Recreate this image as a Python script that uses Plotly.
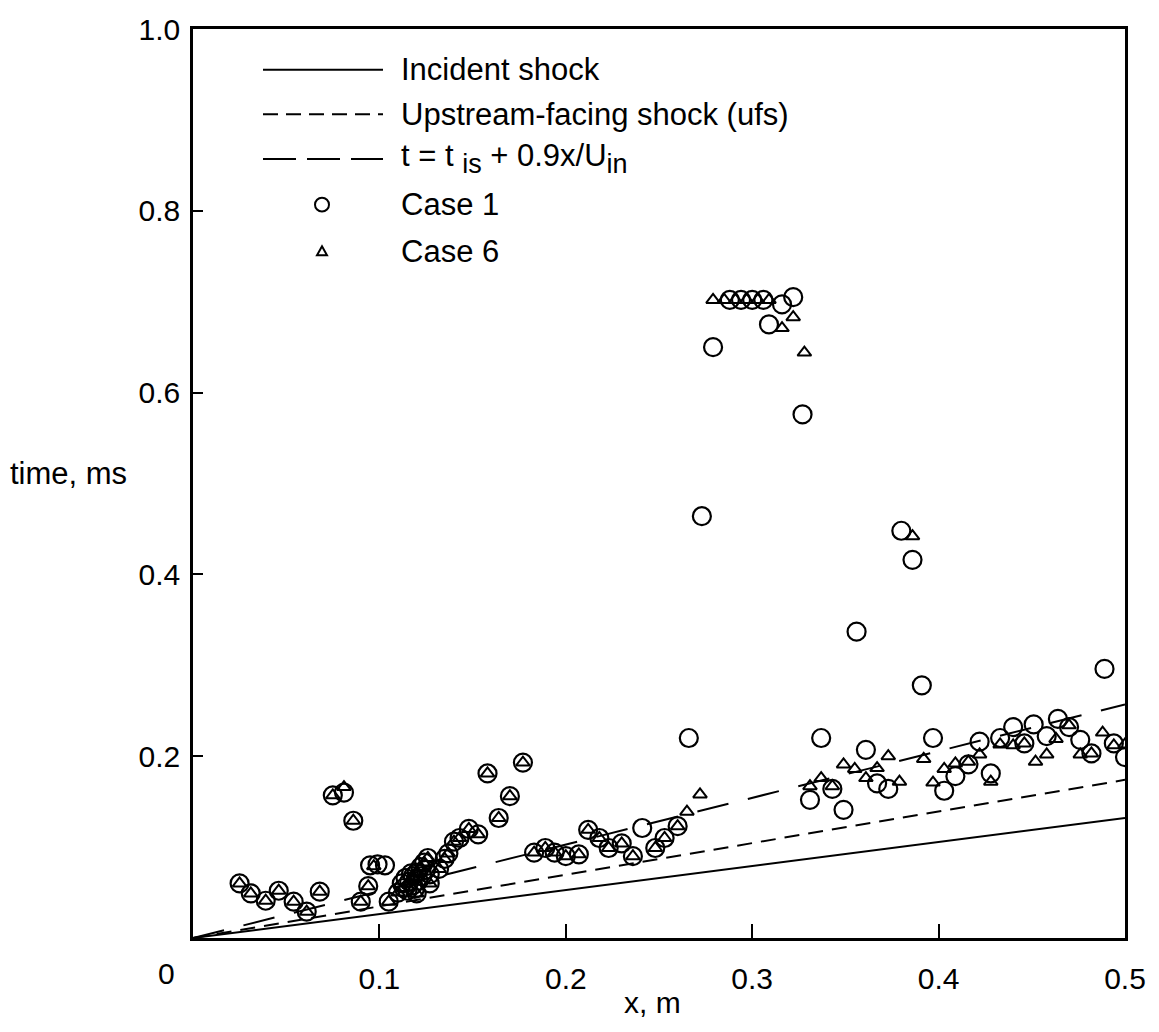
import plotly.graph_objects as go

# ---------------- data ----------------
line_x = [0.0, 0.5]
incident_t = [0.0, 0.132]
ufs_t = [0.0, 0.174]
fit_t = [0.0, 0.257]

case1_x = [0.025, 0.031, 0.039, 0.046, 0.054, 0.061, 0.068, 0.075, 0.081, 0.086,
           0.090, 0.094, 0.095, 0.099, 0.103, 0.105,
           0.110, 0.112, 0.113, 0.114, 0.116, 0.118, 0.118, 0.120, 0.121, 0.122,
           0.124, 0.125, 0.126, 0.127, 0.120, 0.127, 0.115, 0.119, 0.123, 0.117,
           0.132, 0.135, 0.137, 0.140, 0.143, 0.148, 0.153, 0.158, 0.164, 0.170, 0.177,
           0.183, 0.189, 0.194, 0.200, 0.207, 0.212, 0.218, 0.223, 0.230, 0.236,
           0.241, 0.248, 0.253, 0.260,
           0.266, 0.273, 0.279, 0.288, 0.294, 0.300, 0.306, 0.316, 0.322, 0.309,
           0.327, 0.337, 0.356, 0.361, 0.380, 0.386, 0.391, 0.397, 0.489,
           0.331, 0.343, 0.349, 0.367, 0.373, 0.403, 0.409, 0.416, 0.422, 0.428,
           0.433, 0.440, 0.446, 0.451, 0.458, 0.464, 0.470, 0.476, 0.482, 0.494, 0.500]
case1_t = [0.060, 0.049, 0.041, 0.052, 0.040, 0.029, 0.051, 0.157, 0.160, 0.129,
           0.040, 0.057, 0.080, 0.081, 0.080, 0.040,
           0.050, 0.060, 0.055, 0.066, 0.062, 0.068, 0.058, 0.072, 0.063, 0.078,
           0.083, 0.075, 0.088, 0.070, 0.049, 0.060, 0.052, 0.054, 0.068, 0.071,
           0.076, 0.087, 0.093, 0.106, 0.110, 0.120, 0.114, 0.181, 0.132, 0.156, 0.193,
           0.094, 0.099, 0.094, 0.090, 0.092, 0.119, 0.110, 0.099, 0.104, 0.090,
           0.121, 0.099, 0.110, 0.123,
           0.220, 0.464, 0.650, 0.702, 0.702, 0.702, 0.702, 0.697, 0.705, 0.675,
           0.576, 0.220, 0.337, 0.207, 0.448, 0.416, 0.278, 0.220, 0.296,
           0.152, 0.164, 0.141, 0.170, 0.164, 0.162, 0.178, 0.191, 0.216, 0.181,
           0.220, 0.232, 0.214, 0.235, 0.222, 0.241, 0.232, 0.218, 0.203, 0.214, 0.199]

case6_x = [0.025, 0.031, 0.039, 0.046, 0.054, 0.061, 0.068, 0.075, 0.081, 0.086,
           0.090, 0.094, 0.097, 0.105,
           0.110, 0.113, 0.116, 0.118, 0.120, 0.122, 0.124, 0.126, 0.120, 0.127,
           0.132, 0.135, 0.137, 0.140, 0.143, 0.148, 0.153, 0.158, 0.164, 0.170, 0.177,
           0.183, 0.189, 0.194, 0.200, 0.207, 0.212, 0.218, 0.223, 0.230, 0.236,
           0.248, 0.253, 0.260, 0.265, 0.272,
           0.279, 0.285, 0.291, 0.297, 0.303, 0.309, 0.316, 0.322, 0.328, 0.386,
           0.331, 0.337, 0.343, 0.349, 0.355, 0.361, 0.367, 0.373, 0.379, 0.392,
           0.397, 0.403, 0.409, 0.416, 0.422, 0.428, 0.433, 0.440, 0.446, 0.452,
           0.458, 0.463, 0.470, 0.476, 0.482, 0.488, 0.494, 0.500]
case6_t = [0.060, 0.049, 0.041, 0.052, 0.040, 0.029, 0.051, 0.157, 0.166, 0.129,
           0.040, 0.057, 0.079, 0.040,
           0.050, 0.055, 0.062, 0.068, 0.072, 0.078, 0.083, 0.088, 0.049, 0.060,
           0.076, 0.087, 0.093, 0.106, 0.110, 0.120, 0.114, 0.181, 0.132, 0.156, 0.193,
           0.094, 0.099, 0.094, 0.090, 0.092, 0.119, 0.110, 0.099, 0.104, 0.090,
           0.099, 0.110, 0.123, 0.139, 0.158,
           0.702, 0.702, 0.702, 0.702, 0.702, 0.702, 0.671, 0.683, 0.644, 0.442,
           0.167, 0.176, 0.167, 0.191, 0.186, 0.176, 0.187, 0.200, 0.172, 0.197,
           0.171, 0.186, 0.192, 0.194, 0.202, 0.172, 0.213, 0.212, 0.214, 0.194,
           0.202, 0.219, 0.234, 0.202, 0.203, 0.226, 0.212, 0.213]

x_ticks = [0.1, 0.2, 0.3, 0.4, 0.5]
x_tick_text = ["0.1", "0.2", "0.3", "0.4", "0.5"]
y_ticks = [0.2, 0.4, 0.6, 0.8, 1.0]
y_tick_text = ["0.2", "0.4", "0.6", "0.8", "1.0"]

legend_labels = ["Incident shock", "Upstream-facing shock (ufs)",
                 "t = t <sub><span style='font-size:27px'>is</span></sub> + 0.9x/U<sub><span style='font-size:27px'>in</span></sub>",
                 "Case 1", "Case 6"]

# ---------------- figure ----------------
FONT = "Liberation Sans, Arial, Helvetica, sans-serif"
W, H = 1159, 1032
L, R, T, B = 193, 34, 22, 94
pw, ph = W - L - R, H - T - B

def px2paper(px, py):
    return (px - L) / pw, (H - B - py) / ph

fig = go.Figure()
fig.add_trace(go.Scatter(x=line_x, y=incident_t, mode="lines",
                         line=dict(color="black", width=2), showlegend=False))
fig.add_trace(go.Scatter(x=line_x, y=ufs_t, mode="lines",
                         line=dict(color="black", width=2, dash="15px,9px"), showlegend=False))
fig.add_trace(go.Scatter(x=line_x, y=fit_t, mode="lines",
                         line=dict(color="black", width=2, dash="32px,20px"), showlegend=False))
fig.add_trace(go.Scatter(x=case1_x, y=case1_t, mode="markers",
                         marker=dict(symbol="circle-open", size=18, color="black",
                                     line=dict(width=2.2, color="black")),
                         showlegend=False))
fig.add_trace(go.Scatter(x=case6_x, y=case6_t, mode="markers",
                         marker=dict(symbol="triangle-up-open", size=12, color="black",
                                     line=dict(width=2, color="black")),
                         showlegend=False))

shapes = []
annotations = []
rows_py = [63, 108, 153, 199, 246]
dashes = ["solid", "15px,8px", "33px,11px"]
for i in range(3):
    x0, y0 = px2paper(263, rows_py[i])
    x1, _ = px2paper(383, rows_py[i])
    shapes.append(dict(type="line", xref="paper", yref="paper", x0=x0, x1=x1, y0=y0, y1=y0,
                       line=dict(color="black", width=2, dash=dashes[i])))
# circle legend marker
cx, cy = 322, rows_py[3]
a0, b0 = px2paper(cx - 7, cy + 7)
a1, b1 = px2paper(cx + 7, cy - 7)
shapes.append(dict(type="circle", xref="paper", yref="paper", x0=a0, y0=b0, x1=a1, y1=b1,
                   line=dict(color="black", width=2)))
# triangle legend marker
tx, ty = 322, rows_py[4]
p1 = px2paper(tx - 5, ty + 4)
p2 = px2paper(tx + 5, ty + 4)
p3 = px2paper(tx, ty - 5)
shapes.append(dict(type="path", xref="paper", yref="paper",
                   path=f"M {p1[0]},{p1[1]} L {p2[0]},{p2[1]} L {p3[0]},{p3[1]} Z",
                   line=dict(color="black", width=2)))
for i, lab in enumerate(legend_labels):
    ax, ay = px2paper(399, rows_py[i])
    annotations.append(dict(x=ax, y=ay, xref="paper", yref="paper", text=lab,
                            showarrow=False, xanchor="left", yanchor="middle",
                            font=dict(family=FONT, size=31, color="black")))

ox, oy = px2paper(166, 974)
annotations.append(dict(x=ox, y=oy, xref="paper", yref="paper", text="0", showarrow=False,
                        xanchor="center", yanchor="middle",
                        font=dict(family=FONT, size=30, color="black")))
tx_, ty_ = px2paper(652, 1003)
annotations.append(dict(x=tx_, y=ty_, xref="paper", yref="paper", text="x, m", showarrow=False,
                        xanchor="center", yanchor="middle",
                        font=dict(family=FONT, size=30, color="black")))
yx, yy = px2paper(8, 470)
annotations.append(dict(x=yx, y=yy, xref="paper", yref="paper", text="time, ms",
                        showarrow=False, xanchor="left", yanchor="middle",
                        font=dict(family=FONT, size=31, color="black")))

fig.update_layout(
    width=W, height=H,
    margin=dict(l=L, r=R, t=T, b=B, pad=0),
    paper_bgcolor="white", plot_bgcolor="white",
    font=dict(family=FONT, size=30, color="black"),
    shapes=shapes, annotations=annotations,
    showlegend=False,
)
fig.update_xaxes(range=[0, 0.5], tickvals=x_ticks, ticktext=x_tick_text,
                 ticks="inside", ticklen=14, tickwidth=1.5, tickcolor="black",
                 showline=True, linecolor="black", linewidth=2.5, mirror=True,
                 showgrid=False, zeroline=False, ticklabelstandoff=12,
                 tickfont=dict(family=FONT, size=30, color="black"))
fig.update_yaxes(range=[0, 1.0], tickvals=y_ticks, ticktext=y_tick_text,
                 ticks="inside", ticklen=10, tickwidth=1.5, tickcolor="black",
                 showline=True, linecolor="black", linewidth=2.5, mirror=True,
                 showgrid=False, zeroline=False, ticklabelstandoff=4,
                 tickfont=dict(family=FONT, size=30, color="black"))

fig.write_html("out.html")
